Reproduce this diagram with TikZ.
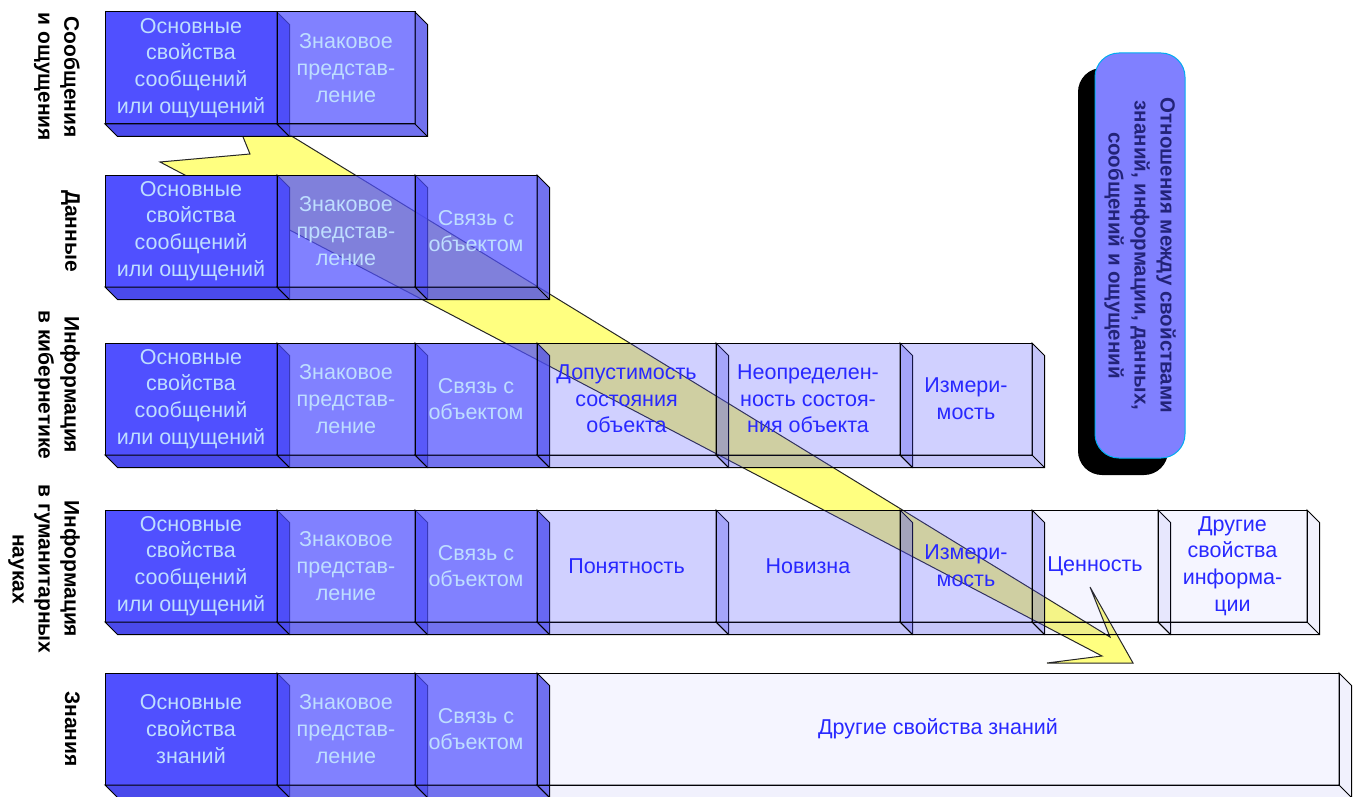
\documentclass[tikz,border=0pt]{standalone}
\usepackage{fontspec}
\setmainfont{Liberation Sans}
\usepackage{tikz}
\usetikzlibrary{calc}
\usetikzlibrary{positioning}

\definecolor{cellblue}{RGB}{80,80,255}
\definecolor{pale}{RGB}{190,222,255}
\definecolor{ink}{RGB}{40,40,255}
\definecolor{strela}{RGB}{255,255,128}
\definecolor{legfill}{RGB}{128,128,255}
\definecolor{legink}{RGB}{35,35,120}

\tikzset{
    cell/.style={draw=black, line width=1pt, anchor=north west, inner sep=0pt, outer sep=0pt,
        minimum height=112pt, align=center, text opacity=1,
        font=\fontsize{21.5}{26.7}\selectfont},
    cellA/.style={cell, fill=cellblue, text=pale},
    cellB/.style={cell, fill=cellblue, fill opacity=0.72, text=pale},
    cellC/.style={cell, fill=cellblue, fill opacity=0.27, text=ink},
    cellD/.style={cell, fill=cellblue, fill opacity=0.06, text=ink},
    faceA/.style={fill=cellblue!92!black},
    faceB/.style={fill=cellblue!92!black, fill opacity=0.78},
    faceC/.style={fill=cellblue!92!black, fill opacity=0.32},
    faceD/.style={fill=cellblue!92!black, fill opacity=0.08},
    edge/.style={draw=black, line width=1pt},
    rowlabel/.style={rotate=-90, anchor=north, align=center, inner sep=0pt,
        font=\bfseries\fontsize{21}{26}\selectfont},
    strelka/.style={fill=strela, draw=black!85, line width=1pt, line join=miter},
    legend/.style={rotate=-90, draw=cyan, line width=1pt, fill=legfill, rounded corners=24pt,
        minimum width=405pt, minimum height=90pt, inner sep=0pt, align=center,
        text=legink, font=\bfseries\fontsize{20.5}{26}\selectfont},
}

% side faces of a box (right and bottom)
\newcommand{\grani}[2]{%
    \filldraw[#2, edge] (#1.north east) -- ++(12.5,12.5) -- ($(#1.south east)+(12.5,12.5)$)
        -- ($(#1.south west)+(12.5,12.5)$) -- (#1.south west) -- (#1.south east) -- cycle;
    \draw[edge] (#1.south east) -- ++(12.5,12.5);
}
% box: name, x, width, level, text
\newcommand{\kub}[5]{%
    \node[cell#4, minimum width=#3pt] (#1) at (#2,0) {#5};
    \grani{#1}{face#4}
}

\begin{document}
\begin{tikzpicture}[x=1pt, y=-1pt]
    \useasboundingbox (0,0) rectangle (1354,797);

    % yellow arrow
    \filldraw[strelka] (249,110) -- (1110,637) -- (1090,587) -- (1133,663) -- (1047,663)
        -- (1102,656) -- (160,162) -- (250,154) -- (232,110) -- cycle;

\begin{scope}[shift={(0,12)}]
    \kub{os1}{105}{172}{A}{Основные\\свойства\\сообщений\\или ощущений}
    \kub{zn1}{277}{138}{B}{Знаковое\\представ-\\ление}
\end{scope}
\begin{scope}[shift={(0,175)}]
    \kub{os2}{105}{172}{A}{Основные\\свойства\\сообщений\\или ощущений}
    \kub{zn2}{277}{138}{B}{Знаковое\\представ-\\ление}
    \kub{sv2}{415}{122}{B}{Связь с\\объектом}
\end{scope}
\begin{scope}[shift={(0,343)}]
    \kub{os3}{105}{172}{A}{Основные\\свойства\\сообщений\\или ощущений}
    \kub{zn3}{277}{138}{B}{Знаковое\\представ-\\ление}
    \kub{sv3}{415}{122}{B}{Связь с\\объектом}
    \kub{dop3}{537}{179}{C}{Допустимость\\состояния\\объекта}
    \kub{neo3}{716}{184}{C}{Неопределен-\\ность состоя-\\ния объекта}
    \kub{izm3}{900}{132}{C}{Измери-\\мость}
\end{scope}
\begin{scope}[shift={(0,510)}]
    \kub{os4}{105}{172}{A}{Основные\\свойства\\сообщений\\или ощущений}
    \kub{zn4}{277}{138}{B}{Знаковое\\представ-\\ление}
    \kub{sv4}{415}{122}{B}{Связь с\\объектом}
    \kub{pon4}{537}{179}{C}{Понятность}
    \kub{nov4}{716}{184}{C}{Новизна}
    \kub{izm4}{900}{132}{C}{Измери-\\мость}
    \kub{cen4}{1032}{126}{D}{Ценность}
    \kub{dr4}{1158}{149}{D}{Другие\\свойства\\информа-\\ции}
\end{scope}
\begin{scope}[shift={(0,673)}]
    \kub{os5}{105}{172}{A}{Основные\\свойства\\знаний}
    \kub{zn5}{277}{138}{B}{Знаковое\\представ-\\ление}
    \kub{sv5}{415}{122}{B}{Связь с\\объектом}
    \kub{dr5}{537}{802}{D}{Другие свойства знаний}
\end{scope}

    % row titles
    \node[rowlabel] (lab1) at (80,77) {Сообщения\\и ощущения};
    \node[rowlabel] (lab2) at (80,231) {Данные};
    \node[rowlabel] (lab3) at (80,385) {Информация\\в кибернетике};
    \node[rowlabel] (lab4) at (80,569) {Информация\\в гуманитарных\\науках};
    \node[rowlabel] (lab5) at (80,729) {Знания};

    % legend
    \fill[black, rounded corners=24pt] (1078,68) rectangle (1168,475);
    \node[legend] (otn) at (1140,255.5) {Отношения между свойствами\\знаний, информации, данных,\\сообщений и ощущений};
\end{tikzpicture}
\end{document}
